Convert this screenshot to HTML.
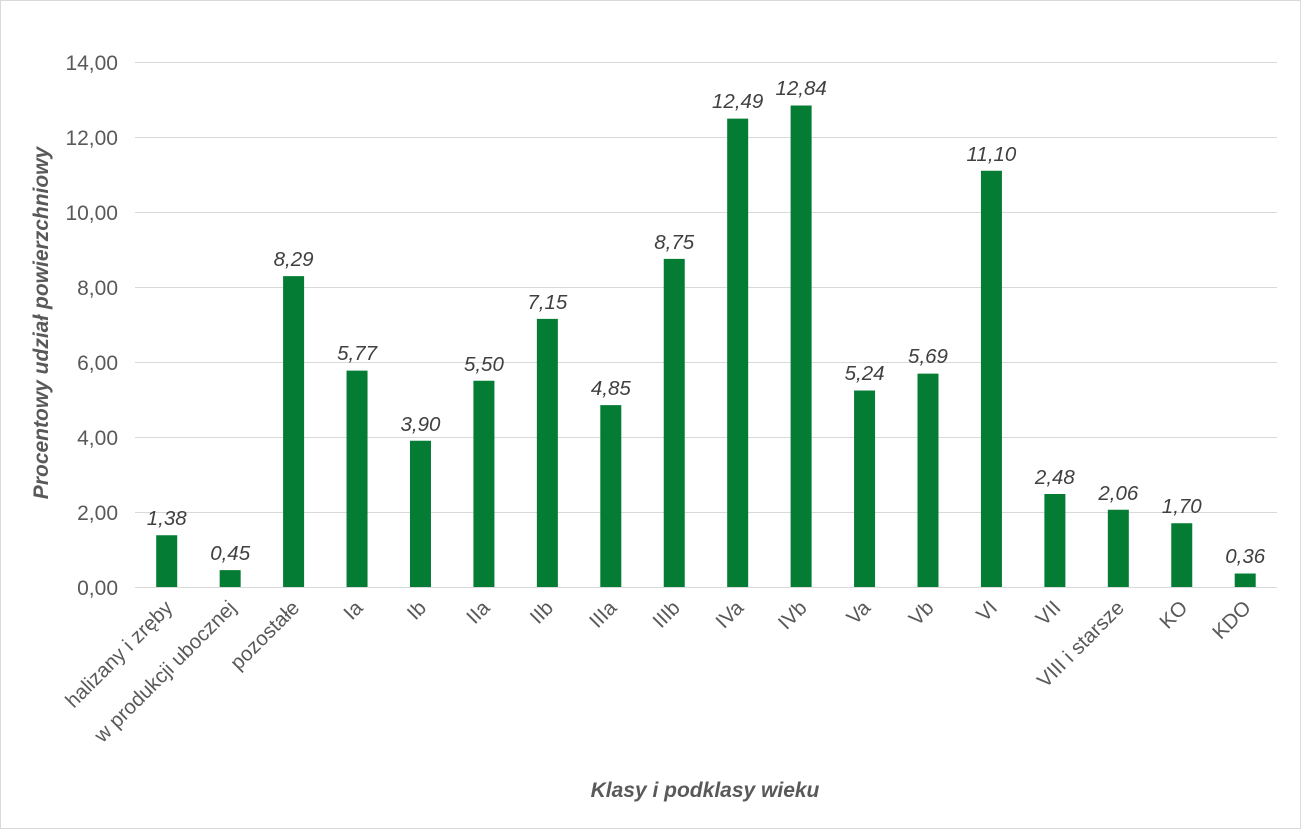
<!DOCTYPE html>
<html><head><meta charset="utf-8"><style>body{margin:0;background:#fff}svg{display:block}</style></head><body>
<svg width="1301" height="829" xmlns="http://www.w3.org/2000/svg" font-family="Liberation Sans, sans-serif">
<rect x="0.5" y="0.5" width="1300" height="828" fill="#fff" stroke="#d9d9d9"/>
<g stroke="#d9d9d9" stroke-width="1">
<line x1="135" x2="1277" y1="62.5" y2="62.5"/><line x1="135" x2="1277" y1="137.5" y2="137.5"/><line x1="135" x2="1277" y1="212.5" y2="212.5"/><line x1="135" x2="1277" y1="287.5" y2="287.5"/><line x1="135" x2="1277" y1="362.5" y2="362.5"/><line x1="135" x2="1277" y1="437.5" y2="437.5"/><line x1="135" x2="1277" y1="512.5" y2="512.5"/><line x1="135" x2="1277" y1="587.5" y2="587.5"/>
</g>
<g font-size="21" fill="#595959" text-anchor="end">
<text x="118" y="70">14,00</text><text x="118" y="145">12,00</text><text x="118" y="220">10,00</text><text x="118" y="295">8,00</text><text x="118" y="370">6,00</text><text x="118" y="445">4,00</text><text x="118" y="520">2,00</text><text x="118" y="595">0,00</text>
</g>
<g fill="#047c34">
<rect x="156.22" y="535.25" width="21" height="51.75"/>
<rect x="219.66" y="570.13" width="21" height="16.87"/>
<rect x="283.10" y="276.13" width="21" height="310.87"/>
<rect x="346.54" y="370.63" width="21" height="216.37"/>
<rect x="409.98" y="440.75" width="21" height="146.25"/>
<rect x="473.42" y="380.75" width="21" height="206.25"/>
<rect x="536.86" y="318.88" width="21" height="268.12"/>
<rect x="600.30" y="405.13" width="21" height="181.87"/>
<rect x="663.74" y="258.88" width="21" height="328.12"/>
<rect x="727.18" y="118.63" width="21" height="468.37"/>
<rect x="790.62" y="105.50" width="21" height="481.50"/>
<rect x="854.06" y="390.50" width="21" height="196.50"/>
<rect x="917.50" y="373.63" width="21" height="213.37"/>
<rect x="980.94" y="170.75" width="21" height="416.25"/>
<rect x="1044.38" y="494.00" width="21" height="93.00"/>
<rect x="1107.82" y="509.75" width="21" height="77.25"/>
<rect x="1171.26" y="523.25" width="21" height="63.75"/>
<rect x="1234.70" y="573.50" width="21" height="13.50"/>
</g>
<g font-size="20.5" font-style="italic" fill="#404040" text-anchor="middle">
<text x="166.72" y="525">1,38</text>
<text x="230.16" y="560">0,45</text>
<text x="293.60" y="266">8,29</text>
<text x="357.04" y="360">5,77</text>
<text x="420.48" y="431">3,90</text>
<text x="483.92" y="371">5,50</text>
<text x="547.36" y="309">7,15</text>
<text x="610.80" y="395">4,85</text>
<text x="674.24" y="249">8,75</text>
<text x="737.68" y="108">12,49</text>
<text x="801.12" y="95">12,84</text>
<text x="864.56" y="380">5,24</text>
<text x="928.00" y="363">5,69</text>
<text x="991.44" y="161">11,10</text>
<text x="1054.88" y="484">2,48</text>
<text x="1118.32" y="500">2,06</text>
<text x="1181.76" y="513">1,70</text>
<text x="1245.20" y="563">0,36</text>
</g>
<g font-size="20.5" fill="#595959" text-anchor="end">
<text transform="translate(173.7,609) rotate(-45)">halizany i zręby</text>
<text transform="translate(237.2,609) rotate(-45)">w produkcji ubocznej</text>
<text transform="translate(300.6,609) rotate(-45)">pozostałe</text>
<text transform="translate(364.0,609) rotate(-45)">Ia</text>
<text transform="translate(427.5,609) rotate(-45)">Ib</text>
<text transform="translate(490.9,609) rotate(-45)">IIa</text>
<text transform="translate(554.4,609) rotate(-45)">IIb</text>
<text transform="translate(617.8,609) rotate(-45)">IIIa</text>
<text transform="translate(681.2,609) rotate(-45)">IIIb</text>
<text transform="translate(744.7,609) rotate(-45)">IVa</text>
<text transform="translate(808.1,609) rotate(-45)">IVb</text>
<text transform="translate(871.6,609) rotate(-45)">Va</text>
<text transform="translate(935.0,609) rotate(-45)">Vb</text>
<text transform="translate(998.4,609) rotate(-45)">VI</text>
<text transform="translate(1061.9,609) rotate(-45)">VII</text>
<text transform="translate(1125.3,609) rotate(-45)">VIII i starsze</text>
<text transform="translate(1188.8,609) rotate(-45)">KO</text>
<text transform="translate(1252.2,609) rotate(-45)">KDO</text>
</g>
<text transform="translate(48,323) rotate(-90)" text-anchor="middle" font-size="21" font-weight="bold" font-style="italic" fill="#595959">Procentowy udział powierzchniowy</text>
<text x="705" y="797" text-anchor="middle" font-size="21" font-weight="bold" font-style="italic" fill="#595959">Klasy i podklasy wieku</text>
</svg>
</body></html>
